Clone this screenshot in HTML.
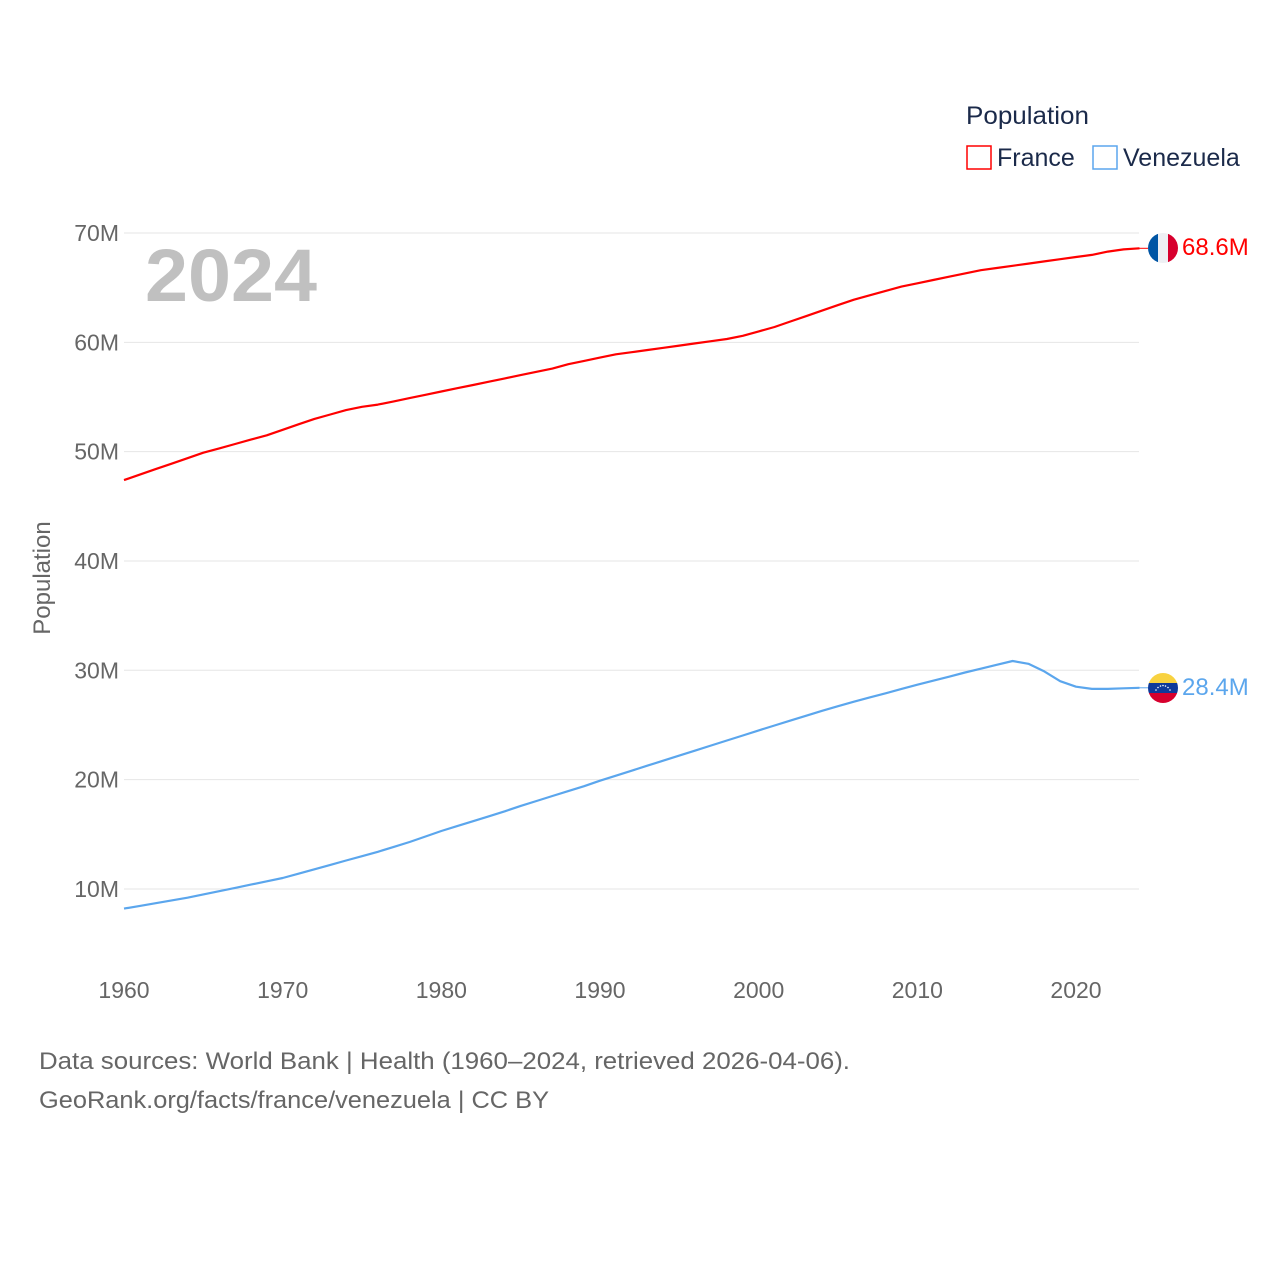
<!DOCTYPE html>
<html><head><meta charset="utf-8"><style>
body{margin:0;background:#fff;width:1280px;height:1280px;overflow:hidden;font-family:"Liberation Sans",sans-serif}
</style></head><body>
<svg id="chart" width="1280" height="1280" xmlns="http://www.w3.org/2000/svg" font-family="Liberation Sans, sans-serif">
<g id="grid"></g>
<g id="yt"></g>
<g id="xt"></g>
<text x="145" y="301" font-size="74" font-weight="bold" fill="#c0c0c0" textLength="172" lengthAdjust="spacingAndGlyphs">2024</text>
<text transform="translate(50,578) rotate(-90)" text-anchor="middle" font-size="24" fill="#666">Population</text>
<g id="series"></g>
<g>
<text x="966" y="124" font-size="25" fill="#1b2a4a" textLength="123" lengthAdjust="spacingAndGlyphs">Population</text>
<g><rect x="967" y="146" width="24" height="23" fill="none" stroke="#ff0000" stroke-width="1.5"/><text x="997" y="166" font-size="25" fill="#1b2a4a">France</text></g>
<g><rect x="1093" y="146" width="24" height="23" fill="none" stroke="#5ba6ed" stroke-width="1.5"/><text x="1123" y="166" font-size="25" fill="#1b2a4a">Venezuela</text></g>
</g>
<defs>
<clipPath id="cf"><circle cx="1163" cy="248" r="15"/></clipPath>
<clipPath id="cv"><circle cx="1163" cy="688" r="15"/></clipPath>
</defs>
<g clip-path="url(#cf)">
<rect x="1148" y="233" width="10" height="30" fill="#0055a4"/><rect x="1158" y="233" width="10" height="30" fill="#eef0f4"/><rect x="1168" y="233" width="10" height="30" fill="#d7002e"/></g>
<g clip-path="url(#cv)">
<rect x="1148" y="673" width="30" height="10" fill="#f8d240"/><rect x="1148" y="683" width="30" height="10" fill="#0f3a9a"/><rect x="1148" y="693" width="30" height="10" fill="#d7002e"/>
<g fill="#fff"><circle cx="1156" cy="690" r="0.8"/><circle cx="1158" cy="687.5" r="0.8"/><circle cx="1160.5" cy="686" r="0.8"/><circle cx="1163" cy="685.5" r="0.8"/><circle cx="1165.5" cy="686" r="0.8"/><circle cx="1168" cy="687.5" r="0.8"/><circle cx="1170" cy="690" r="0.8"/></g></g>
<text x="1182" y="255" font-size="24" fill="#ff0000">68.6M</text>
<text x="1182" y="695" font-size="24" fill="#5ba6ed">28.4M</text>
<text x="39" y="1069" font-size="24" fill="#666" textLength="811" lengthAdjust="spacingAndGlyphs">Data sources: World Bank | Health (1960–2024, retrieved 2026-04-06).</text>
<text x="39" y="1108" font-size="24" fill="#666" textLength="510" lengthAdjust="spacingAndGlyphs">GeoRank.org/facts/france/venezuela | CC BY</text>
</svg>
<script>
const years=[];for(let y=1960;y<=2024;y++)years.push(y);
const france=[47.4,47.9,48.4,48.9,49.4,49.9,50.3,50.7,51.1,51.5,52.0,52.5,53.0,53.4,53.8,54.1,54.3,54.6,54.9,55.2,55.5,55.8,56.1,56.4,56.7,57.0,57.3,57.6,58.0,58.3,58.6,58.9,59.1,59.3,59.5,59.7,59.9,60.1,60.3,60.6,61.0,61.4,61.9,62.4,62.9,63.4,63.9,64.3,64.7,65.1,65.4,65.7,66.0,66.3,66.6,66.8,67.0,67.2,67.4,67.6,67.8,68.0,68.3,68.5,68.6];
const venezuela=[8.2,8.45,8.7,8.95,9.2,9.5,9.8,10.1,10.4,10.7,11.0,11.4,11.8,12.2,12.6,13.0,13.4,13.85,14.3,14.8,15.3,15.75,16.2,16.65,17.1,17.6,18.05,18.5,18.95,19.4,19.9,20.36,20.82,21.28,21.74,22.2,22.66,23.12,23.58,24.04,24.5,24.95,25.4,25.85,26.3,26.72,27.13,27.52,27.9,28.3,28.68,29.05,29.42,29.8,30.15,30.5,30.85,30.6,29.9,29.0,28.5,28.3,28.3,28.35,28.4];
const yTicks=[10,20,30,40,50,60,70];
const xTicks=[1960,1970,1980,1990,2000,2010,2020];
const X=y=>124+(y-1960)*15.867;
const Y=v=>998.3-v*10.933;
const NS="http://www.w3.org/2000/svg";
function mk(tag,attrs,parent){const e=document.createElementNS(NS,tag);for(const k in attrs)e.setAttribute(k,attrs[k]);parent.appendChild(e);return e;}
const grid=document.getElementById('grid'),yt=document.getElementById('yt'),xt=document.getElementById('xt'),ser=document.getElementById('series');
yTicks.forEach(v=>{
const l=mk('line',{x1:124,x2:1139,y1:Y(v),y2:Y(v),stroke:'#e6e6e6','stroke-width':1},grid);


const t=mk('text',{x:119,y:Y(v)+8,'text-anchor':'end','font-size':23,fill:'#666'},yt);
t.textContent=v+'M';


});
xTicks.forEach(v=>{
const t=mk('text',{x:X(v),y:998,'text-anchor':'middle','font-size':23,fill:'#666'},xt);
t.textContent=v;


});
function line(vals,color,name){
const d=vals.map((v,i)=>(i?'L':'M')+X(years[i]).toFixed(1)+','+Y(v).toFixed(1)).join(' ');
const p=mk('path',{d:d,fill:'none',stroke:color,'stroke-width':2.2,'stroke-linejoin':'round'},ser);


const last=vals[vals.length-1];
const c=mk('line',{x1:X(years[years.length-1]),x2:1148,y1:Y(last),y2:Y(last),stroke:color,'stroke-width':1},ser);


}
line(france,'#ff0000','france-line');
line(venezuela,'#5ba6ed','venezuela-line');
</script>
</body></html>
